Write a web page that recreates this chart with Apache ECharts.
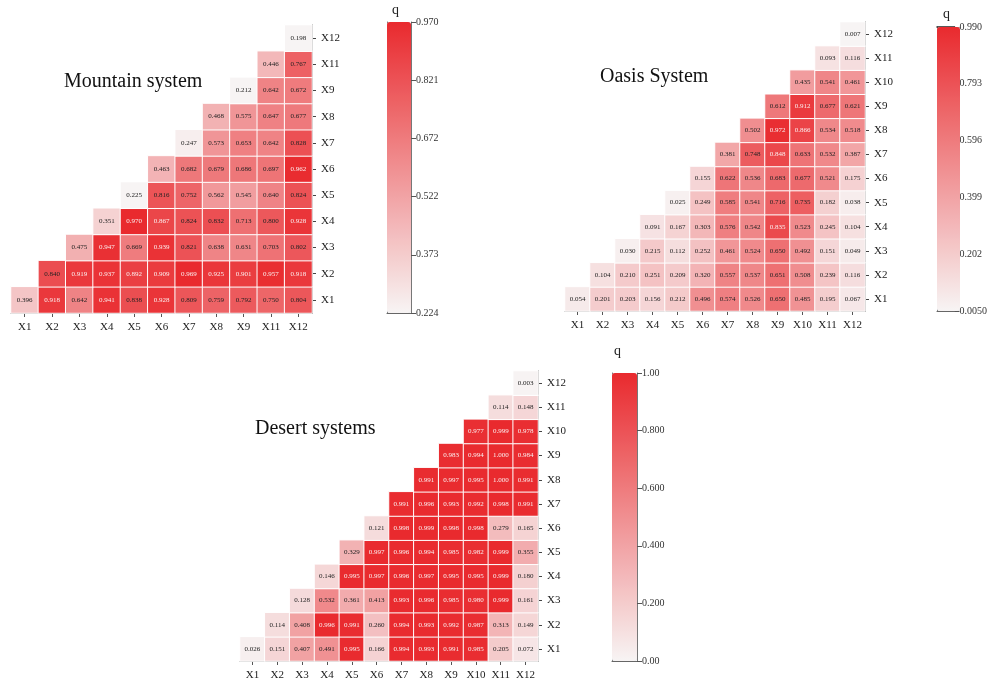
<!DOCTYPE html>
<html>
<head>
<meta charset="utf-8">
<script src="https://cdn.jsdelivr.net/npm/echarts@6/dist/echarts.min.js"></script>
<style>
  html, body { margin: 0; padding: 0; background: #ffffff; }
  #chart { width: 990px; height: 681px; }
</style>
</head>
<body>
<div id="chart"></div>
<script>
// Interaction q-values: each row lists factor Xi paired with Xi, Xi+1, ... up to the last factor.
const mountainFactors = ['X1', 'X2', 'X3', 'X4', 'X5', 'X6', 'X7', 'X8', 'X9', 'X11', 'X12'];
const mountainQ = [
  [0.396, 0.918, 0.642, 0.941, 0.838, 0.928, 0.809, 0.759, 0.792, 0.750, 0.804],
  [0.840, 0.919, 0.937, 0.892, 0.909, 0.969, 0.925, 0.901, 0.957, 0.918],
  [0.475, 0.947, 0.669, 0.939, 0.821, 0.638, 0.631, 0.703, 0.802],
  [0.351, 0.970, 0.867, 0.824, 0.832, 0.713, 0.800, 0.928],
  [0.225, 0.816, 0.752, 0.562, 0.545, 0.640, 0.824],
  [0.463, 0.682, 0.679, 0.686, 0.697, 0.962],
  [0.247, 0.573, 0.653, 0.642, 0.828],
  [0.468, 0.575, 0.647, 0.677],
  [0.212, 0.642, 0.672],
  [0.446, 0.767],
  [0.198]
];
const mountainTicks = ['0.224', '0.373', '0.522', '0.672', '0.821', '0.970'];
const mountainRange = [0.224, 0.970];

const oasisFactors = ['X1', 'X2', 'X3', 'X4', 'X5', 'X6', 'X7', 'X8', 'X9', 'X10', 'X11', 'X12'];
const oasisQ = [
  [0.054, 0.201, 0.203, 0.156, 0.212, 0.496, 0.574, 0.526, 0.650, 0.485, 0.195, 0.067],
  [0.104, 0.210, 0.251, 0.209, 0.320, 0.557, 0.537, 0.651, 0.508, 0.239, 0.116],
  [0.030, 0.215, 0.112, 0.252, 0.461, 0.524, 0.650, 0.492, 0.151, 0.049],
  [0.091, 0.167, 0.303, 0.576, 0.542, 0.835, 0.523, 0.245, 0.104],
  [0.025, 0.249, 0.585, 0.541, 0.716, 0.735, 0.182, 0.038],
  [0.155, 0.622, 0.536, 0.683, 0.677, 0.521, 0.175],
  [0.381, 0.748, 0.848, 0.633, 0.532, 0.387],
  [0.502, 0.972, 0.866, 0.534, 0.518],
  [0.612, 0.912, 0.677, 0.621],
  [0.435, 0.541, 0.461],
  [0.093, 0.116],
  [0.007]
];
const oasisTicks = ['0.0050', '0.202', '0.399', '0.596', '0.793', '0.990'];
const oasisRange = [0.005, 0.990];

const desertFactors = ['X1', 'X2', 'X3', 'X4', 'X5', 'X6', 'X7', 'X8', 'X9', 'X10', 'X11', 'X12'];
const desertQ = [
  [0.026, 0.151, 0.407, 0.491, 0.995, 0.166, 0.994, 0.993, 0.991, 0.985, 0.205, 0.072],
  [0.114, 0.408, 0.996, 0.991, 0.260, 0.994, 0.993, 0.992, 0.987, 0.313, 0.149],
  [0.128, 0.532, 0.361, 0.413, 0.993, 0.996, 0.985, 0.980, 0.999, 0.161],
  [0.146, 0.995, 0.997, 0.996, 0.997, 0.995, 0.995, 0.999, 0.180],
  [0.329, 0.997, 0.996, 0.994, 0.985, 0.982, 0.999, 0.355],
  [0.121, 0.998, 0.999, 0.998, 0.998, 0.279, 0.165],
  [0.991, 0.996, 0.993, 0.992, 0.998, 0.991],
  [0.991, 0.997, 0.995, 1.000, 0.991],
  [0.983, 0.994, 1.000, 0.984],
  [0.977, 0.999, 0.978],
  [0.114, 0.148],
  [0.003]
];
const desertTicks = ['0.00', '0.200', '0.400', '0.600', '0.800', '1.00'];
const desertRange = [0.0, 1.0];

const panelTitles = ['Mountain system', 'Oasis System', 'Desert systems'];

const SERIF = '"Liberation Serif", "DejaVu Serif", serif';
const RAMP = ['#f7f4f4', '#e92a2e'];

// Turn the triangular rows into [column, row, q] cells.
function buildCells(rows, range) {
  const cells = [];
  rows.forEach(function (row, r) {
    row.forEach(function (q, k) {
      const t = (q - range[0]) / (range[1] - range[0]);
      cells.push({
        value: [r + k, r, q],
        label: { color: t > 0.84 ? '#fbeeee' : '#222222' }
      });
    });
  });
  return cells;
}

// Panel geometry: heatmap grid and colour bar grid.
const panels = [
  { factors: mountainFactors, rows: mountainQ, range: mountainRange, ticks: mountainTicks,
    grid: { left: 11, top: 25, width: 301, height: 288 },
    bar: { left: 387, top: 22, width: 24, height: 291 },
    title: { left: 64, top: 72 }, q: { left: 392, top: 3 } },
  { factors: oasisFactors, rows: oasisQ, range: oasisRange, ticks: oasisTicks,
    grid: { left: 565, top: 22, width: 300, height: 289 },
    bar: { left: 937, top: 27, width: 23, height: 284 },
    title: { left: 600, top: 67 }, q: { left: 943, top: 7 } },
  { factors: desertFactors, rows: desertQ, range: desertRange, ticks: desertTicks,
    grid: { left: 240, top: 371, width: 298, height: 290 },
    bar: { left: 612, top: 373, width: 25, height: 288 },
    title: { left: 255, top: 419 }, q: { left: 614, top: 344 } }
];

const grid = [], xAxis = [], yAxis = [], series = [], visualMap = [], title = [];

panels.forEach(function (p, i) {
  // heatmap grid
  const gi = grid.length;
  grid.push(Object.assign({ containLabel: false }, p.grid));
  xAxis.push({
    type: 'category', gridIndex: gi, data: p.factors, position: 'bottom',
    axisLine: { show: true, lineStyle: { color: '#777', width: 1 } },
    axisTick: { show: true, alignWithLabel: true, length: 4, lineStyle: { color: '#555' } },
    axisLabel: { interval: 0, fontFamily: SERIF, fontSize: 11, color: '#222', margin: 9 },
    splitLine: { show: false }
  });
  yAxis.push({
    type: 'category', gridIndex: gi, data: p.factors, position: 'right',
    axisLine: { show: true, lineStyle: { color: '#444', width: 1 } },
    axisTick: { show: true, alignWithLabel: true, length: 4, lineStyle: { color: '#444' } },
    axisLabel: { interval: 0, fontFamily: SERIF, fontSize: 11, color: '#222', margin: 9 },
    splitLine: { show: false }
  });
  series.push({
    type: 'heatmap', name: panelTitles[i],
    xAxisIndex: xAxis.length - 1, yAxisIndex: yAxis.length - 1,
    data: buildCells(p.rows, p.range),
    label: {
      show: true, fontFamily: SERIF, fontSize: 7,
      formatter: function (d) { return d.value[2].toFixed(3); }
    },
    itemStyle: { borderColor: '#ffffff', borderWidth: 1 },
    emphasis: { disabled: true }
  });
  visualMap.push({
    type: 'continuous', seriesIndex: i, dimension: 2,
    min: p.range[0], max: p.range[1],
    inRange: { color: RAMP },
    calculable: false, show: true, hoverLink: false,
    orient: 'vertical', padding: 0,
    left: p.bar.left, top: p.bar.top,
    itemWidth: p.bar.width, itemHeight: p.bar.height
  });

  // colour bar frame and ticks
  const bi = grid.length;
  grid.push(Object.assign({ containLabel: false }, p.bar));
  xAxis.push({
    type: 'value', gridIndex: bi, min: 0, max: 1, position: 'bottom',
    axisLine: { show: true, onZero: false, lineStyle: { color: '#666' } },
    axisTick: { show: false }, axisLabel: { show: false }, splitLine: { show: false }
  });
  if (i === 1) {
    xAxis.push({
      type: 'value', gridIndex: bi, min: 0, max: 1, position: 'top',
      axisLine: { show: true, onZero: false, lineStyle: { color: '#222', width: 1.5 } },
      axisTick: { show: false }, axisLabel: { show: false }, splitLine: { show: false }
    });
  }
  yAxis.push({
    type: 'value', gridIndex: bi, min: 0, max: 5, interval: 1, position: 'left',
    axisLine: { show: true, onZero: false, lineStyle: { color: '#777' } },
    axisTick: { show: false }, axisLabel: { show: false }, splitLine: { show: false }
  });
  yAxis.push({
    type: 'value', gridIndex: bi, min: 0, max: 5, interval: 1, position: 'right',
    axisLine: { show: true, onZero: false, lineStyle: { color: '#777' } },
    axisTick: { show: true, length: 5, lineStyle: { color: '#555' } },
    axisLabel: {
      fontFamily: SERIF, fontSize: 10, color: '#333', margin: 5,
      formatter: (function (ticks) { return function (v) { return ticks[Math.round(v)]; }; })(p.ticks)
    },
    splitLine: { show: false }
  });

  title.push({
    text: panelTitles[i], left: p.title.left, top: p.title.top, padding: 0,
    textStyle: { fontFamily: SERIF, fontSize: 20, fontWeight: 'normal', color: '#111' }
  });
  title.push({
    text: 'q', left: p.q.left, top: p.q.top, padding: 0,
    textStyle: { fontFamily: SERIF, fontSize: 14, fontWeight: 'normal', color: '#222' }
  });
});

const chart = echarts.init(document.getElementById('chart'), null, { renderer: 'canvas' });
chart.setOption({
  backgroundColor: '#ffffff',
  animation: false,
  title: title,
  grid: grid,
  xAxis: xAxis,
  yAxis: yAxis,
  visualMap: visualMap,
  series: series
});
</script>
</body>
</html>
